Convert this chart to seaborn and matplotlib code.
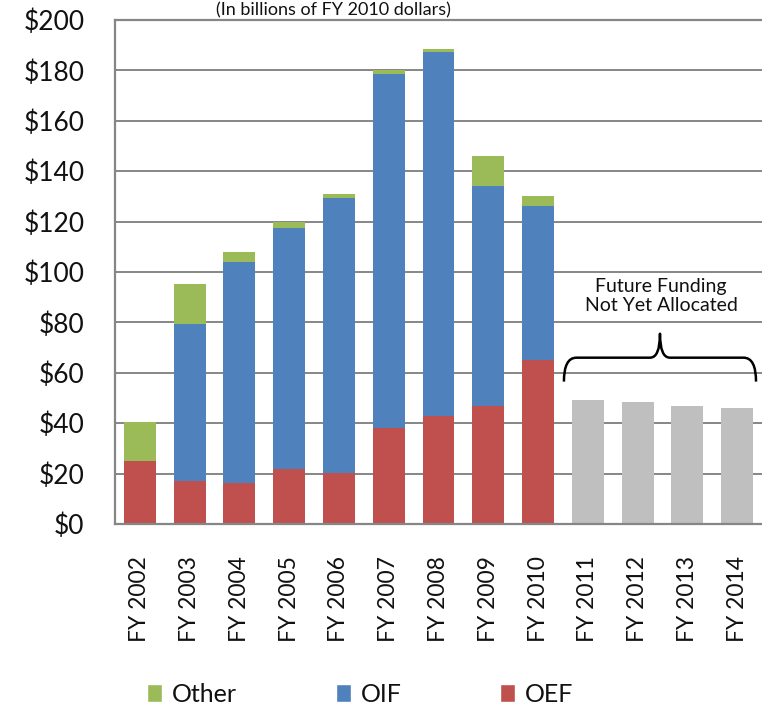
import numpy as np
import pandas as pd
import matplotlib
matplotlib.use("Agg")
import matplotlib.pyplot as plt
import seaborn as sns
from matplotlib.patches import Patch, PathPatch
from matplotlib.path import Path

# ---- data ----
categories = ["FY 2002", "FY 2003", "FY 2004", "FY 2005", "FY 2006", "FY 2007",
              "FY 2008", "FY 2009", "FY 2010", "FY 2011", "FY 2012", "FY 2013", "FY 2014"]
past_years = categories[:9]
future_years = categories[9:]
oef = [25.0, 17.0, 16.3, 22.0, 20.2, 38.2, 43.0, 47.0, 65.2]
oif = [0.0, 62.5, 87.7, 95.6, 109.2, 140.3, 144.5, 87.3, 61.0]
other = [15.5, 15.7, 4.0, 2.2, 1.6, 1.5, 1.0, 11.7, 4.0]
future = [49.2, 48.4, 46.8, 46.0]
yticks = [0, 20, 40, 60, 80, 100, 120, 140, 160, 180, 200]
title = "(In billions of FY 2010 dollars)"
note = "Future Funding\nNot Yet Allocated"

c_other = "#9BBB59"
c_oif = "#4F81BD"
c_oef = "#C0504D"
c_fut = "#BFBFBF"
grid_c = "#868686"

sns.set_theme(style="white")
plt.rcParams["font.family"] = ["Lato", "DejaVu Sans"]

df = pd.DataFrame({"year": past_years, "oef": oef, "oif": oif, "other": other})
df["l2"] = df["oef"] + df["oif"]
df["l3"] = df["l2"] + df["other"]
fdf = pd.DataFrame({"year": future_years, "val": future})

fig = plt.figure(figsize=(7.62, 7.07), dpi=100)
ax = fig.add_axes([115 / 762, (707 - 524) / 707, (762 - 115) / 762, (524 - 20) / 707])

w = 0.64
sns.barplot(data=df, x="year", y="l3", order=categories, color=c_other, width=w,
            saturation=1, ax=ax, linewidth=0)
sns.barplot(data=df, x="year", y="l2", order=categories, color=c_oif, width=w,
            saturation=1, ax=ax, linewidth=0)
sns.barplot(data=df, x="year", y="oef", order=categories, color=c_oef, width=w,
            saturation=1, ax=ax, linewidth=0)
sns.barplot(data=fdf, x="year", y="val", order=categories, color=c_fut, width=w,
            saturation=1, ax=ax, linewidth=0)

ax.set_xlim(-0.5, 12.5)
ax.set_ylim(0, 200)
ax.set_yticks(yticks)
ax.set_yticklabels([f"${v}" for v in yticks], fontsize=19, color="#111111")
ax.set_xticks(range(len(categories)))
ax.set_xticklabels(categories, rotation=90, fontsize=16.5, color="#111111")
ax.tick_params(axis="y", length=0, pad=22)
ax.tick_params(axis="x", length=0, pad=23)
ax.set_xlabel("")
ax.set_ylabel("")
ax.yaxis.grid(True, color=grid_c, linewidth=1.4)
ax.xaxis.grid(False)
ax.set_axisbelow(True)
for s in ["left", "top", "bottom"]:
    ax.spines[s].set_color(grid_c)
    ax.spines[s].set_linewidth(1.6)
ax.spines["right"].set_visible(False)

# brace
xl, xr, xt = 8.52, 12.38, 10.45
yh, ye, ytip = 66.0, 56.5, 75.5
verts = [(xl, ye), (xl, yh), (xl + 0.25, yh),
         (xt - 0.2, yh), (xt, yh), (xt, ytip),
         (xt, yh), (xt + 0.2, yh),
         (xr - 0.25, yh), (xr, yh), (xr, ye)]
codes = [Path.MOVETO, Path.CURVE3, Path.CURVE3,
         Path.LINETO, Path.CURVE3, Path.CURVE3,
         Path.CURVE3, Path.CURVE3,
         Path.LINETO, Path.CURVE3, Path.CURVE3]
ax.add_patch(PathPatch(Path(verts, codes), fill=False, edgecolor="black", linewidth=1.8,
                       capstyle="butt", joinstyle="round"))
ax.text(10.47, 90.3, note, ha="center", va="center", fontsize=14, linespacing=1.15,
        color="#111111")

fig.text(333 / 762, 1 - 15 / 707, title, ha="center", va="baseline", fontsize=13,
         color="#111111")

handles = [Patch(facecolor=c_other, label="Other"),
           Patch(facecolor=c_oif, label="OIF"),
           Patch(facecolor=c_oef, label="OEF")]
fig.legend(handles=handles, loc="center left", bbox_to_anchor=(147 / 762, 1 - 694 / 707),
           ncol=3, frameon=False, fontsize=18, handlelength=0.6, handleheight=0.75,
           handletextpad=0.4, columnspacing=3.95, borderaxespad=0, borderpad=0,
           labelcolor="#111111")

fig.savefig("out.png", dpi=100)
